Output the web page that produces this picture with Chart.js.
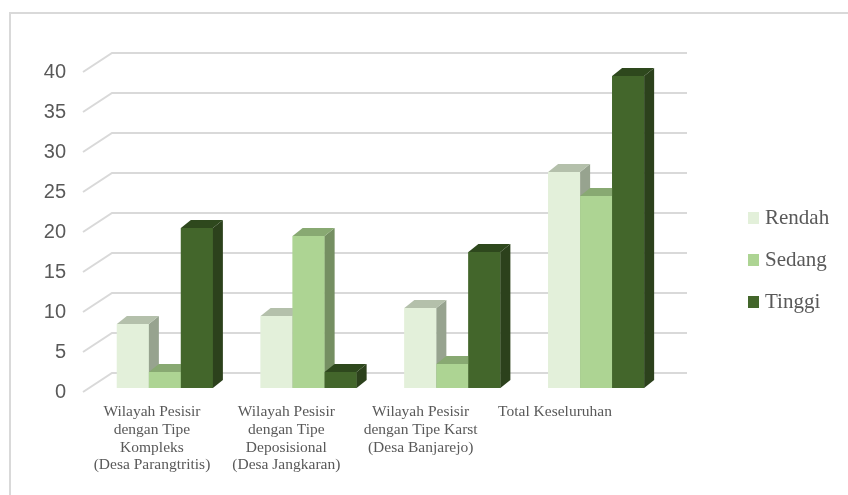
<!DOCTYPE html>
<html>
<head>
<meta charset="utf-8">
<script src="https://cdn.jsdelivr.net/npm/chart.js@4.4.1/dist/chart.umd.min.js"></script>
<style>
  html, body { margin: 0; padding: 0; background: #fff; }
  #wrap { width: 848px; height: 495px; position: relative; }
</style>
</head>
<body>
<div id="wrap"><canvas id="barChart" width="848" height="495"></canvas></div>
<script>
// chart values
var categories = [
    ['Wilayah Pesisir', 'dengan Tipe', 'Kompleks', '(Desa Parangtritis)'],
    ['Wilayah Pesisir', 'dengan Tipe', 'Deposisional', '(Desa Jangkaran)'],
    ['Wilayah Pesisir', 'dengan Tipe Karst', '(Desa Banjarejo)'],
    'Total Keseluruhan'
];
var seriesNames = ['Rendah', 'Sedang', 'Tinggi'];
var rendah = [8, 9, 10, 27];
var sedang = [2, 19, 3, 24];
var tinggi = [20, 2, 17, 39];
var yTicks = [0, 5, 10, 15, 20, 25, 30, 35, 40];

// front / top / side shades for the 3d look
var frontColors = ['#E3F0DA', '#ADD493', '#43662B'];
var topColors = ['#B4C0AB', '#88A972', '#2E481D'];
var sideColors = ['#97A38F', '#758F62', '#2C411C'];

var DX = 10, DY = 8;          // bar depth
var WALL_DX = 19, WALL_DY = 15; // back wall offset

var wallGrid = {
    id: 'wallGrid',
    beforeDraw: function (chart) {
        var c = chart.ctx;
        c.save();
        c.fillStyle = '#ffffff';
        c.fillRect(0, 0, chart.width, chart.height);
        // outer frame (only top and left show)
        c.strokeStyle = '#D9D9D9';
        c.lineWidth = 2;
        c.beginPath();
        c.moveTo(10, chart.height);
        c.lineTo(10, 13);
        c.lineTo(chart.width, 13);
        c.stroke();
        c.restore();
    },
    beforeDatasetsDraw: function (chart) {
        var c = chart.ctx, y = chart.scales.y, area = chart.chartArea;
        c.save();
        c.strokeStyle = '#D9D9D9';
        c.lineWidth = 2;
        yTicks.forEach(function (v) {
            var py = Math.round(y.getPixelForValue(v));
            c.beginPath();
            c.moveTo(area.left - 10, py + 4);
            c.lineTo(area.left + WALL_DX, py - WALL_DY);
            c.lineTo(area.right + WALL_DX, py - WALL_DY);
            c.stroke();
        });
        c.restore();
    }
};

var bars3d = {
    id: 'bars3d',
    afterDatasetsDraw: function (chart) {
        var c = chart.ctx;
        c.save();
        chart.data.datasets.forEach(function (ds, i) {
            chart.getDatasetMeta(i).data.forEach(function (bar) {
                var l = bar.x - bar.width / 2, r = bar.x + bar.width / 2;
                var t = bar.y, b = bar.base;
                c.fillStyle = frontColors[i];
                c.fillRect(l, t, r - l, b - t);
                // side
                c.fillStyle = sideColors[i];
                c.beginPath();
                c.moveTo(r, t);
                c.lineTo(r + DX, t - DY);
                c.lineTo(r + DX, b - DY);
                c.lineTo(r, b);
                c.closePath();
                c.fill();
                // top
                c.fillStyle = topColors[i];
                c.beginPath();
                c.moveTo(l, t);
                c.lineTo(l + DX, t - DY);
                c.lineTo(r + DX, t - DY);
                c.lineTo(r, t);
                c.closePath();
                c.fill();
            });
        });
        c.restore();
    }
};

var sideLegend = {
    id: 'sideLegend',
    afterDraw: function (chart) {
        var c = chart.ctx, area = chart.chartArea;
        var x0 = area.right + 80;
        c.save();
        c.font = '21px "Liberation Serif", "Times New Roman", serif';
        c.textBaseline = 'middle';
        chart.data.datasets.forEach(function (ds, i) {
            var cy = 218 + i * 42;
            c.fillStyle = frontColors[i];
            c.fillRect(x0, cy - 6, 11, 12);
            c.fillStyle = '#595959';
            c.fillText(ds.label, x0 + 17, cy);
        });
        c.restore();
    }
};

var ctx = document.getElementById('barChart').getContext('2d');
var barChart = new Chart(ctx, {
    type: 'bar',
    data: {
        labels: categories,
        datasets: [
            { label: seriesNames[0], data: rendah, backgroundColor: frontColors[0] },
            { label: seriesNames[1], data: sedang, backgroundColor: frontColors[1] },
            { label: seriesNames[2], data: tinggi, backgroundColor: frontColors[2] }
        ]
    },
    options: {
        responsive: false,
        animation: false,
        layout: { padding: { top: 68, right: 180, bottom: 0, left: 0 } },
        datasets: {
            bar: { categoryPercentage: 0.668, barPercentage: 1 }
        },
        plugins: {
            legend: { display: false },
            tooltip: { enabled: false }
        },
        scales: {
            x: {
                display: false,
                offset: true
            },
            // label axis: the category labels sit on the front edge of the floor,
            // a little narrower than the bar groups
            xl: {
                type: 'linear',
                position: 'bottom',
                offset: false,
                min: -0.439,
                max: 3.841,
                grid: { display: false, drawTicks: false, offset: false },
                border: { display: false },
                afterBuildTicks: function (scale) {
                    scale.ticks = categories.map(function (c, i) { return { value: i }; });
                },
                afterFit: function (scale) { scale.height = 107; },
                ticks: {
                    padding: 15,
                    maxRotation: 0,
                    autoSkip: false,
                    color: '#595959',
                    font: { family: '"Liberation Serif", "Times New Roman", serif', size: 15.5, lineHeight: 1.15 },
                    callback: function (v) { return categories[v]; }
                }
            },
            y: {
                min: 0,
                max: 40,
                afterBuildTicks: function (scale) {
                    scale.ticks = yTicks.map(function (v) { return { value: v }; });
                },
                afterFit: function (scale) { scale.width = 93; },
                grid: { display: false, drawTicks: false },
                border: { display: false },
                ticks: {
                    padding: 27,
                    labelOffset: 4,
                    color: '#595959',
                    font: { family: '"Liberation Sans", Arial, sans-serif', size: 20 }
                }
            }
        }
    },
    plugins: [wallGrid, bars3d, sideLegend]
});
</script>
</body>
</html>
